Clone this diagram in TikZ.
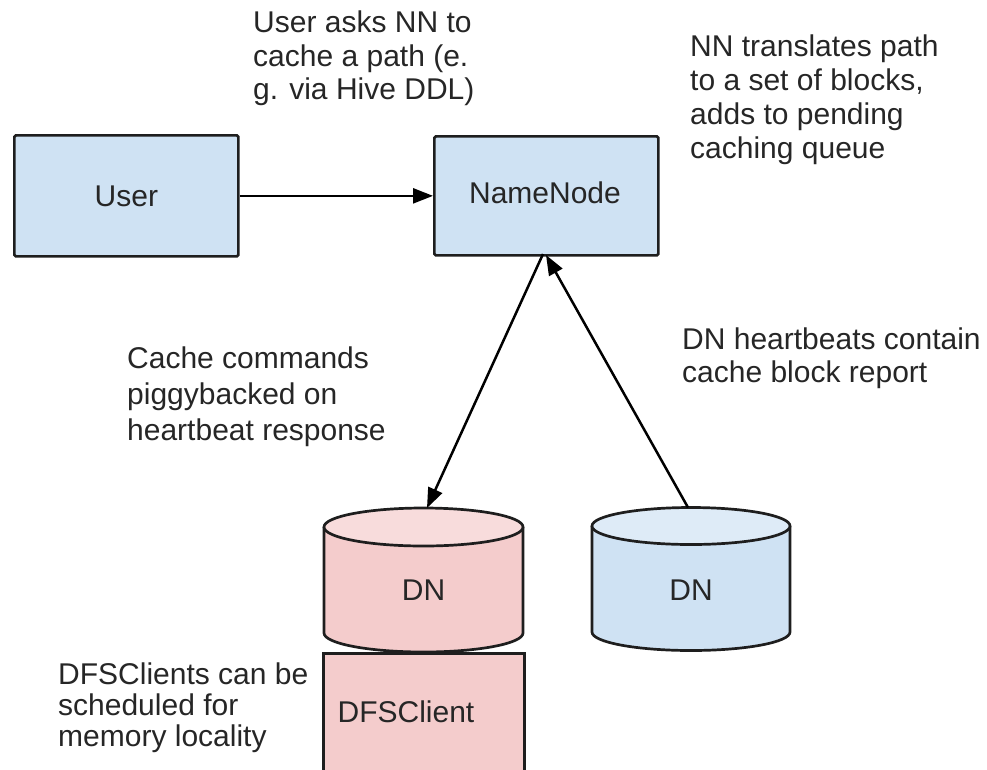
\documentclass[tikz,border=0pt]{standalone}
\usepackage{fontspec}
\setmainfont{Liberation Sans}
\usetikzlibrary{arrows.meta}
\definecolor{boxblue}{HTML}{CFE2F3}
\definecolor{topblue}{HTML}{DEEBF7}
\definecolor{boxpink}{HTML}{F4CCCC}
\definecolor{toppink}{HTML}{F8DCDC}
\definecolor{ink}{HTML}{1E1E1E}
\definecolor{txt}{HTML}{262626}
\begin{document}
\begin{tikzpicture}[x=1pt,y=-1pt,
  box/.style={draw=ink, line width=2.7pt, rounded corners=1.5pt, fill=boxblue},
  lbl/.style={font=\fontsize{30}{33}\selectfont, text=txt, inner sep=0pt},
  note/.style={text=txt, align=left, inner sep=0pt, anchor=north west},
  arr/.style={draw=black, line width=2.5pt, -{Triangle[length=20pt,width=15pt]}},
  cyl/.style={draw=ink, line width=2.7pt}]
\useasboundingbox (0,0) rectangle (987,769);
\clip (0,0) rectangle (987,769);

% boxes
\node[box, minimum width=224pt, minimum height=121pt, anchor=north west] (user) at (13,134) {};
\node[lbl] (userlbl) at (user.center) {User};
\node[box, minimum width=224pt, minimum height=119pt, anchor=north west] (nn) at (433,135) {};
\node[lbl] (nnlbl) at (545,193) {NameNode};

% DFSClient box
\node[draw=ink, line width=2.7pt, fill=boxpink, minimum width=201pt, minimum height=140pt, anchor=north west] (dfs) at (322,652) {};
\node[lbl] (dfslbl) at (406,712) {DFSClient};

% pink DN cylinder
\fill[boxpink] (324,527) -- (324,633) arc[start angle=180,end angle=0,x radius=99.5,y radius=19] -- (523,527) -- cycle;
\draw[cyl] (324,527) -- (324,633) arc[start angle=180,end angle=0,x radius=99.5,y radius=19] -- (523,527);
\filldraw[cyl, fill=toppink] (423.5,527) ellipse [x radius=99.5, y radius=19];
\node[lbl] (dn1) at (423.5,590) {DN};
\coordinate (pinktop) at (427,508);

% blue DN cylinder
\fill[boxblue] (592,526) -- (592,632) arc[start angle=180,end angle=0,x radius=99,y radius=18.5] -- (790,526) -- cycle;
\draw[cyl] (592,526) -- (592,632) arc[start angle=180,end angle=0,x radius=99,y radius=18.5] -- (790,526);
\filldraw[cyl, fill=topblue] (691,526) ellipse [x radius=99, y radius=18.5];
\node[lbl] (dn2) at (691,590) {DN};
\coordinate (bluetop) at (688,507.5);

% connectors
\draw[arr] (user.east) -- (nn.west);
\coordinate (nnb1) at (543,254);
\coordinate (nnb2) at (546,255);
\draw[arr] (nnb1) -- (pinktop);
\draw[arr] (bluetop) -- (nnb2);

% notes
\node[note, font=\fontsize{30}{33.5}\selectfont] (t1) at (253,11) {User asks NN to\\cache a path (e.\\g. via Hive DDL)};
\node[note, font=\fontsize{30}{34}\selectfont] (t2) at (690,35) {NN translates path\\to a set of blocks,\\adds to pending\\caching queue};
\node[note, font=\fontsize{30}{36}\selectfont] (t3) at (127,347) {Cache commands\\piggybacked on\\heartbeat response};
\node[note, font=\fontsize{30}{33}\selectfont] (t4) at (682,328) {DN heartbeats contain\\cache block report};
\node[note, font=\fontsize{30}{31}\selectfont] (t5) at (58,663) {DFSClients can be\\scheduled for\\memory locality};
\end{tikzpicture}
\end{document}
